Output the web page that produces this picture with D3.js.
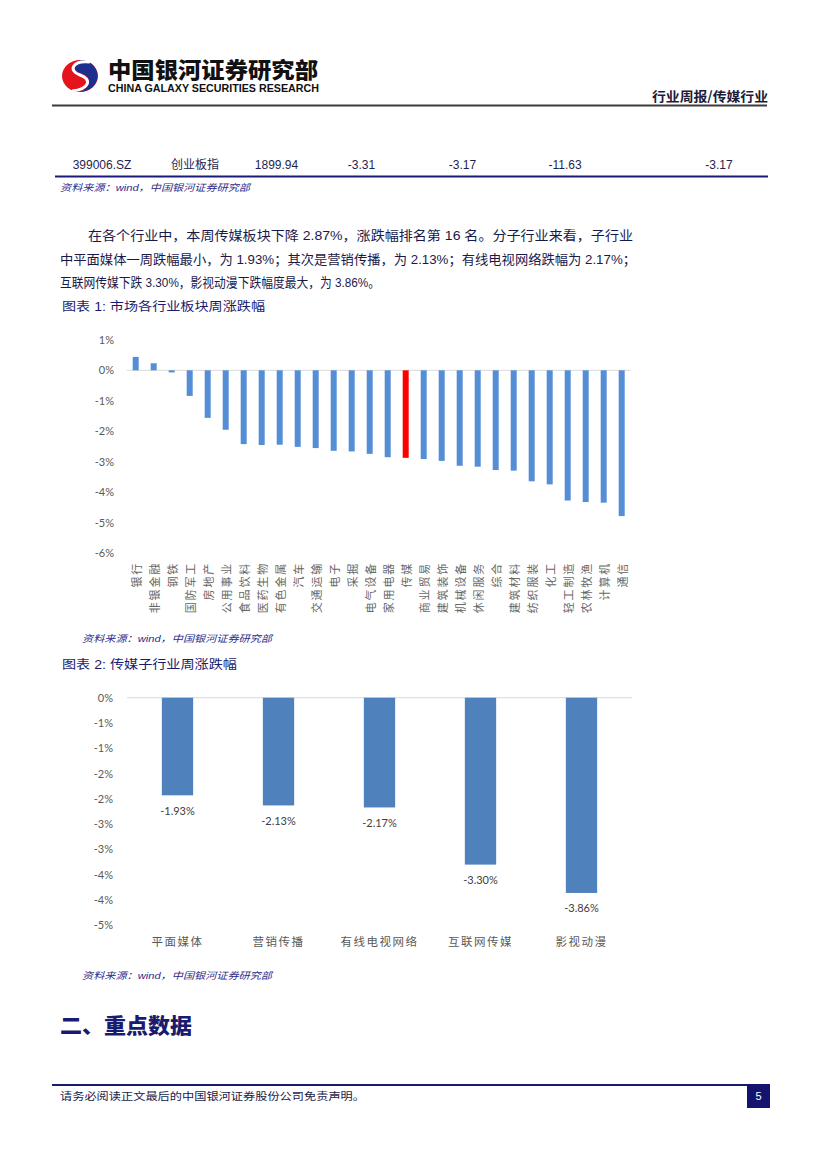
<!DOCTYPE html>
<html><head><meta charset="utf-8">
<script src="https://cdn.jsdelivr.net/npm/d3@7"></script>
<style>body{margin:0;background:#fff} svg{display:block}</style>
</head><body><svg id="page" width="827" height="1169"></svg>
<script>
// ---------- data ----------
const industries = ["银行","非银金融","钢铁","国防军工","房地产","公用事业","食品饮料","医药生物","有色金属","汽车","交通运输","电子","采掘","电气设备","家用电器","传媒","商业贸易","建筑装饰","机械设备","休闲服务","综合","建筑材料","纺织服装","化工","轻工制造","农林牧渔","计算机","通信"];
const industryValues = [0.44,0.23,-0.07,-0.84,-1.56,-1.95,-2.42,-2.45,-2.44,-2.51,-2.55,-2.64,-2.66,-2.74,-2.85,-2.87,-2.91,-2.97,-3.13,-3.16,-3.27,-3.29,-3.64,-3.74,-4.27,-4.32,-4.34,-4.78];
const highlightIndustry = "传媒";
const yTicks1 = [1,0,-1,-2,-3,-4,-5,-6];

const subIndustries = ["平面媒体","营销传播","有线电视网络","互联网传媒","影视动漫"];
const subValues = [-1.93,-2.13,-2.17,-3.30,-3.86];
const yTicks2 = [0,-0.5,-1,-1.5,-2,-2.5,-3,-3.5,-4,-4.5];
const yTickLabels2 = ["0%","-1%","-1%","-2%","-2%","-3%","-3%","-4%","-4%","-5%"];

const tableRow = ["399006.SZ","创业板指","1899.94","-3.31","-3.17","-11.63","-3.17"];

// ---------- drawing ----------
const svg = d3.select("#page");
const NAVY = "#1a1a6e";
const CJK = "'Liberation Sans','Noto Sans CJK SC',sans-serif";
const AX = "Lato,'Noto Sans CJK SC',sans-serif";

// header logo
const logo = svg.append("g");
logo.append("ellipse").attr("cx",80).attr("cy",76).attr("rx",18).attr("ry",16).attr("fill","#e3141b");
logo.append("path").attr("d","M82 60 C102 62 104 90 80 92 C92 86 92 76 80 73 C70 70 72 61 82 60 Z").attr("fill","#1d2f8c");
logo.append("path").attr("d","M90 62 C72 60 68 71 80 75 C92 79 90 89 72 91").attr("fill","none").attr("stroke","#fff").attr("stroke-width",3);
svg.append("text").attr("x",108).attr("y",78).attr("font-family","'Noto Sans CJK SC',sans-serif").attr("font-weight",900)
  .attr("font-size",22).attr("fill","#111").attr("textLength",210).attr("lengthAdjust","spacingAndGlyphs").text("中国银河证券研究部");
svg.append("text").attr("x",108).attr("y",92).attr("font-family","'Liberation Sans',Arial,sans-serif").attr("font-weight",700)
  .attr("font-size",10.5).attr("fill","#111").attr("textLength",211).attr("lengthAdjust","spacingAndGlyphs").text("CHINA GALAXY SECURITIES RESEARCH");
svg.append("text").attr("x",768).attr("y",101).attr("text-anchor","end").attr("font-family","'Noto Sans CJK SC',sans-serif").attr("font-weight",700)
  .attr("font-size",13).attr("fill","#1b1b3a").attr("textLength",116).attr("lengthAdjust","spacingAndGlyphs").text("行业周报/传媒行业");
svg.append("line").attr("x1",52).attr("x2",767).attr("y1",105.5).attr("y2",105.5).attr("stroke","#3a3a3a").attr("stroke-width",2);

// table row
const colX = [102,195,276.5,361.5,462.5,565,719];
svg.append("g").selectAll("text").data(tableRow).join("text")
  .attr("x",(d,i)=>colX[i]).attr("y",169).attr("text-anchor","middle")
  .attr("font-family",CJK).attr("font-size",12).attr("fill","#1f1f4f").text(d=>d);
svg.append("line").attr("x1",55).attr("x2",768).attr("y1",176.5).attr("y2",176.5).attr("stroke","#1a1a7a").attr("stroke-width",2);
function source(y){
  svg.append("text").attr("x",y.x).attr("y",y.y).attr("font-family",CJK).attr("font-style","italic")
    .attr("font-size",9.5).attr("fill","#2b2b8c").attr("textLength",190).attr("lengthAdjust","spacingAndGlyphs").text("资料来源：wind，中国银河证券研究部");
}
source({x:60,y:191});

// paragraph
const para = [
  {x:88,y:240,w:545,t:"在各个行业中，本周传媒板块下降 2.87%，涨跌幅排名第 16 名。分子行业来看，子行业"},
  {x:60,y:264,w:576,t:"中平面媒体一周跌幅最小，为 1.93%；其次是营销传播，为 2.13%；有线电视网络跌幅为 2.17%；"},
  {x:60,y:287,w:320,t:"互联网传媒下跌 3.30%，影视动漫下跌幅度最大，为 3.86%。"}
];
svg.append("g").selectAll("text").data(para).join("text")
  .attr("x",d=>d.x).attr("y",d=>d.y).attr("font-family",CJK).attr("font-size",13).attr("fill","#1a1a4a")
  .attr("textLength",d=>d.w).attr("lengthAdjust","spacingAndGlyphs").text(d=>d.t);

svg.append("text").attr("x",62).attr("y",311).attr("font-family",CJK).attr("font-size",12.5).attr("fill",NAVY)
  .attr("textLength",203).attr("lengthAdjust","spacingAndGlyphs").text("图表 1:  市场各行业板块周涨跌幅");

// ---------- chart 1 ----------
const x1 = d3.scaleBand().domain(industries).range([126.7,630.7]).paddingInner(2/3).paddingOuter(1/3);
const y1 = d3.scaleLinear().domain([-6,1]).range([553.3,339.8]);
const g1 = svg.append("g");
g1.append("line").attr("x1",126.7).attr("x2",630.7).attr("y1",y1(0)).attr("y2",y1(0)).attr("stroke","#d9d9d9").attr("stroke-width",1);
g1.selectAll("rect").data(industries).join("rect")
  .attr("x",d=>x1(d)).attr("width",x1.bandwidth())
  .attr("y",(d,i)=>y1(Math.max(0,industryValues[i])))
  .attr("height",(d,i)=>Math.abs(y1(industryValues[i])-y1(0)))
  .attr("fill",d=>d===highlightIndustry?"#ff0000":"#558ed5");
const ax1 = g1.append("g").attr("transform","translate(126.7,0)")
  .call(d3.axisLeft(y1).tickValues(yTicks1).tickFormat(d=>d+"%").tickSize(0).tickPadding(12.7));
ax1.select(".domain").remove();
ax1.selectAll("text").attr("font-family",AX).attr("font-size",11).attr("fill","#595959");
g1.selectAll("text.xl").data(industries).join("text").attr("class","xl")
  .attr("transform",d=>`translate(${x1(d)+x1.bandwidth()/2},562) rotate(-90)`)
  .attr("text-anchor","end").attr("dominant-baseline","central")
  .attr("font-family","'Noto Sans CJK SC',sans-serif").attr("font-size",11).attr("letter-spacing",1.8)
  .attr("fill","#666").text(d=>d);
source({x:82,y:642});

svg.append("text").attr("x",62).attr("y",669).attr("font-family",CJK).attr("font-size",12.5).attr("fill",NAVY)
  .attr("textLength",175).attr("lengthAdjust","spacingAndGlyphs").text("图表 2:  传媒子行业周涨跌幅");

// ---------- chart 2 ----------
const x2 = d3.scaleBand().domain(subIndustries).range([127,632]).paddingInner(0.69).paddingOuter(0.345);
const y2 = d3.scaleLinear().domain([-4.5,0]).range([925.3,697.7]);
const g2 = svg.append("g");
g2.append("line").attr("x1",127).attr("x2",632).attr("y1",y2(0)).attr("y2",y2(0)).attr("stroke","#d9d9d9").attr("stroke-width",1);
g2.selectAll("rect").data(subIndustries).join("rect")
  .attr("x",d=>x2(d)).attr("width",x2.bandwidth())
  .attr("y",y2(0)).attr("height",(d,i)=>y2(subValues[i])-y2(0))
  .attr("fill","#4f81bd");
g2.selectAll("text.dl").data(subIndustries).join("text").attr("class","dl")
  .attr("x",d=>x2(d)+x2.bandwidth()/2).attr("y",(d,i)=>y2(subValues[i])+15)
  .attr("text-anchor","middle").attr("dominant-baseline","central")
  .attr("font-family",AX).attr("font-size",11).attr("fill","#404040")
  .text((d,i)=>subValues[i].toFixed(2)+"%");
const ax2 = g2.append("g").attr("transform","translate(127,0)")
  .call(d3.axisLeft(y2).tickValues(yTicks2).tickFormat((d,i)=>yTickLabels2[i]).tickSize(0).tickPadding(14));
ax2.select(".domain").remove();
ax2.selectAll("text").attr("font-family",AX).attr("font-size",11).attr("fill","#595959");
g2.selectAll("text.xl").data(subIndustries).join("text").attr("class","xl")
  .attr("x",d=>x2(d)+x2.bandwidth()/2).attr("y",941).attr("text-anchor","middle").attr("dominant-baseline","central")
  .attr("font-family","'Noto Sans CJK SC',sans-serif").attr("font-size",11.5).attr("letter-spacing",1.5)
  .attr("fill","#595959").text(d=>d);
source({x:82,y:979});

// heading
svg.append("text").attr("x",60).attr("y",1033).attr("font-family","'Noto Sans CJK SC',sans-serif").attr("font-weight",900)
  .attr("font-size",21).attr("fill",NAVY).attr("textLength",132).attr("lengthAdjust","spacingAndGlyphs").text("二、重点数据");

// footer
svg.append("line").attr("x1",52).attr("x2",747).attr("y1",1085).attr("y2",1085).attr("stroke",NAVY).attr("stroke-width",2);
svg.append("rect").attr("x",747).attr("y",1084).attr("width",23).attr("height",24).attr("fill","#14146e");
svg.append("text").attr("x",758.5).attr("y",1100).attr("text-anchor","middle").attr("font-family","'Liberation Sans',sans-serif")
  .attr("font-size",11).attr("fill","#fff").text("5");
svg.append("text").attr("x",60).attr("y",1100).attr("font-family",CJK).attr("font-size",10.5).attr("fill","#1a1a4a")
  .attr("textLength",305).attr("lengthAdjust","spacingAndGlyphs").text("请务必阅读正文最后的中国银河证券股份公司免责声明。");
</script></body></html>
